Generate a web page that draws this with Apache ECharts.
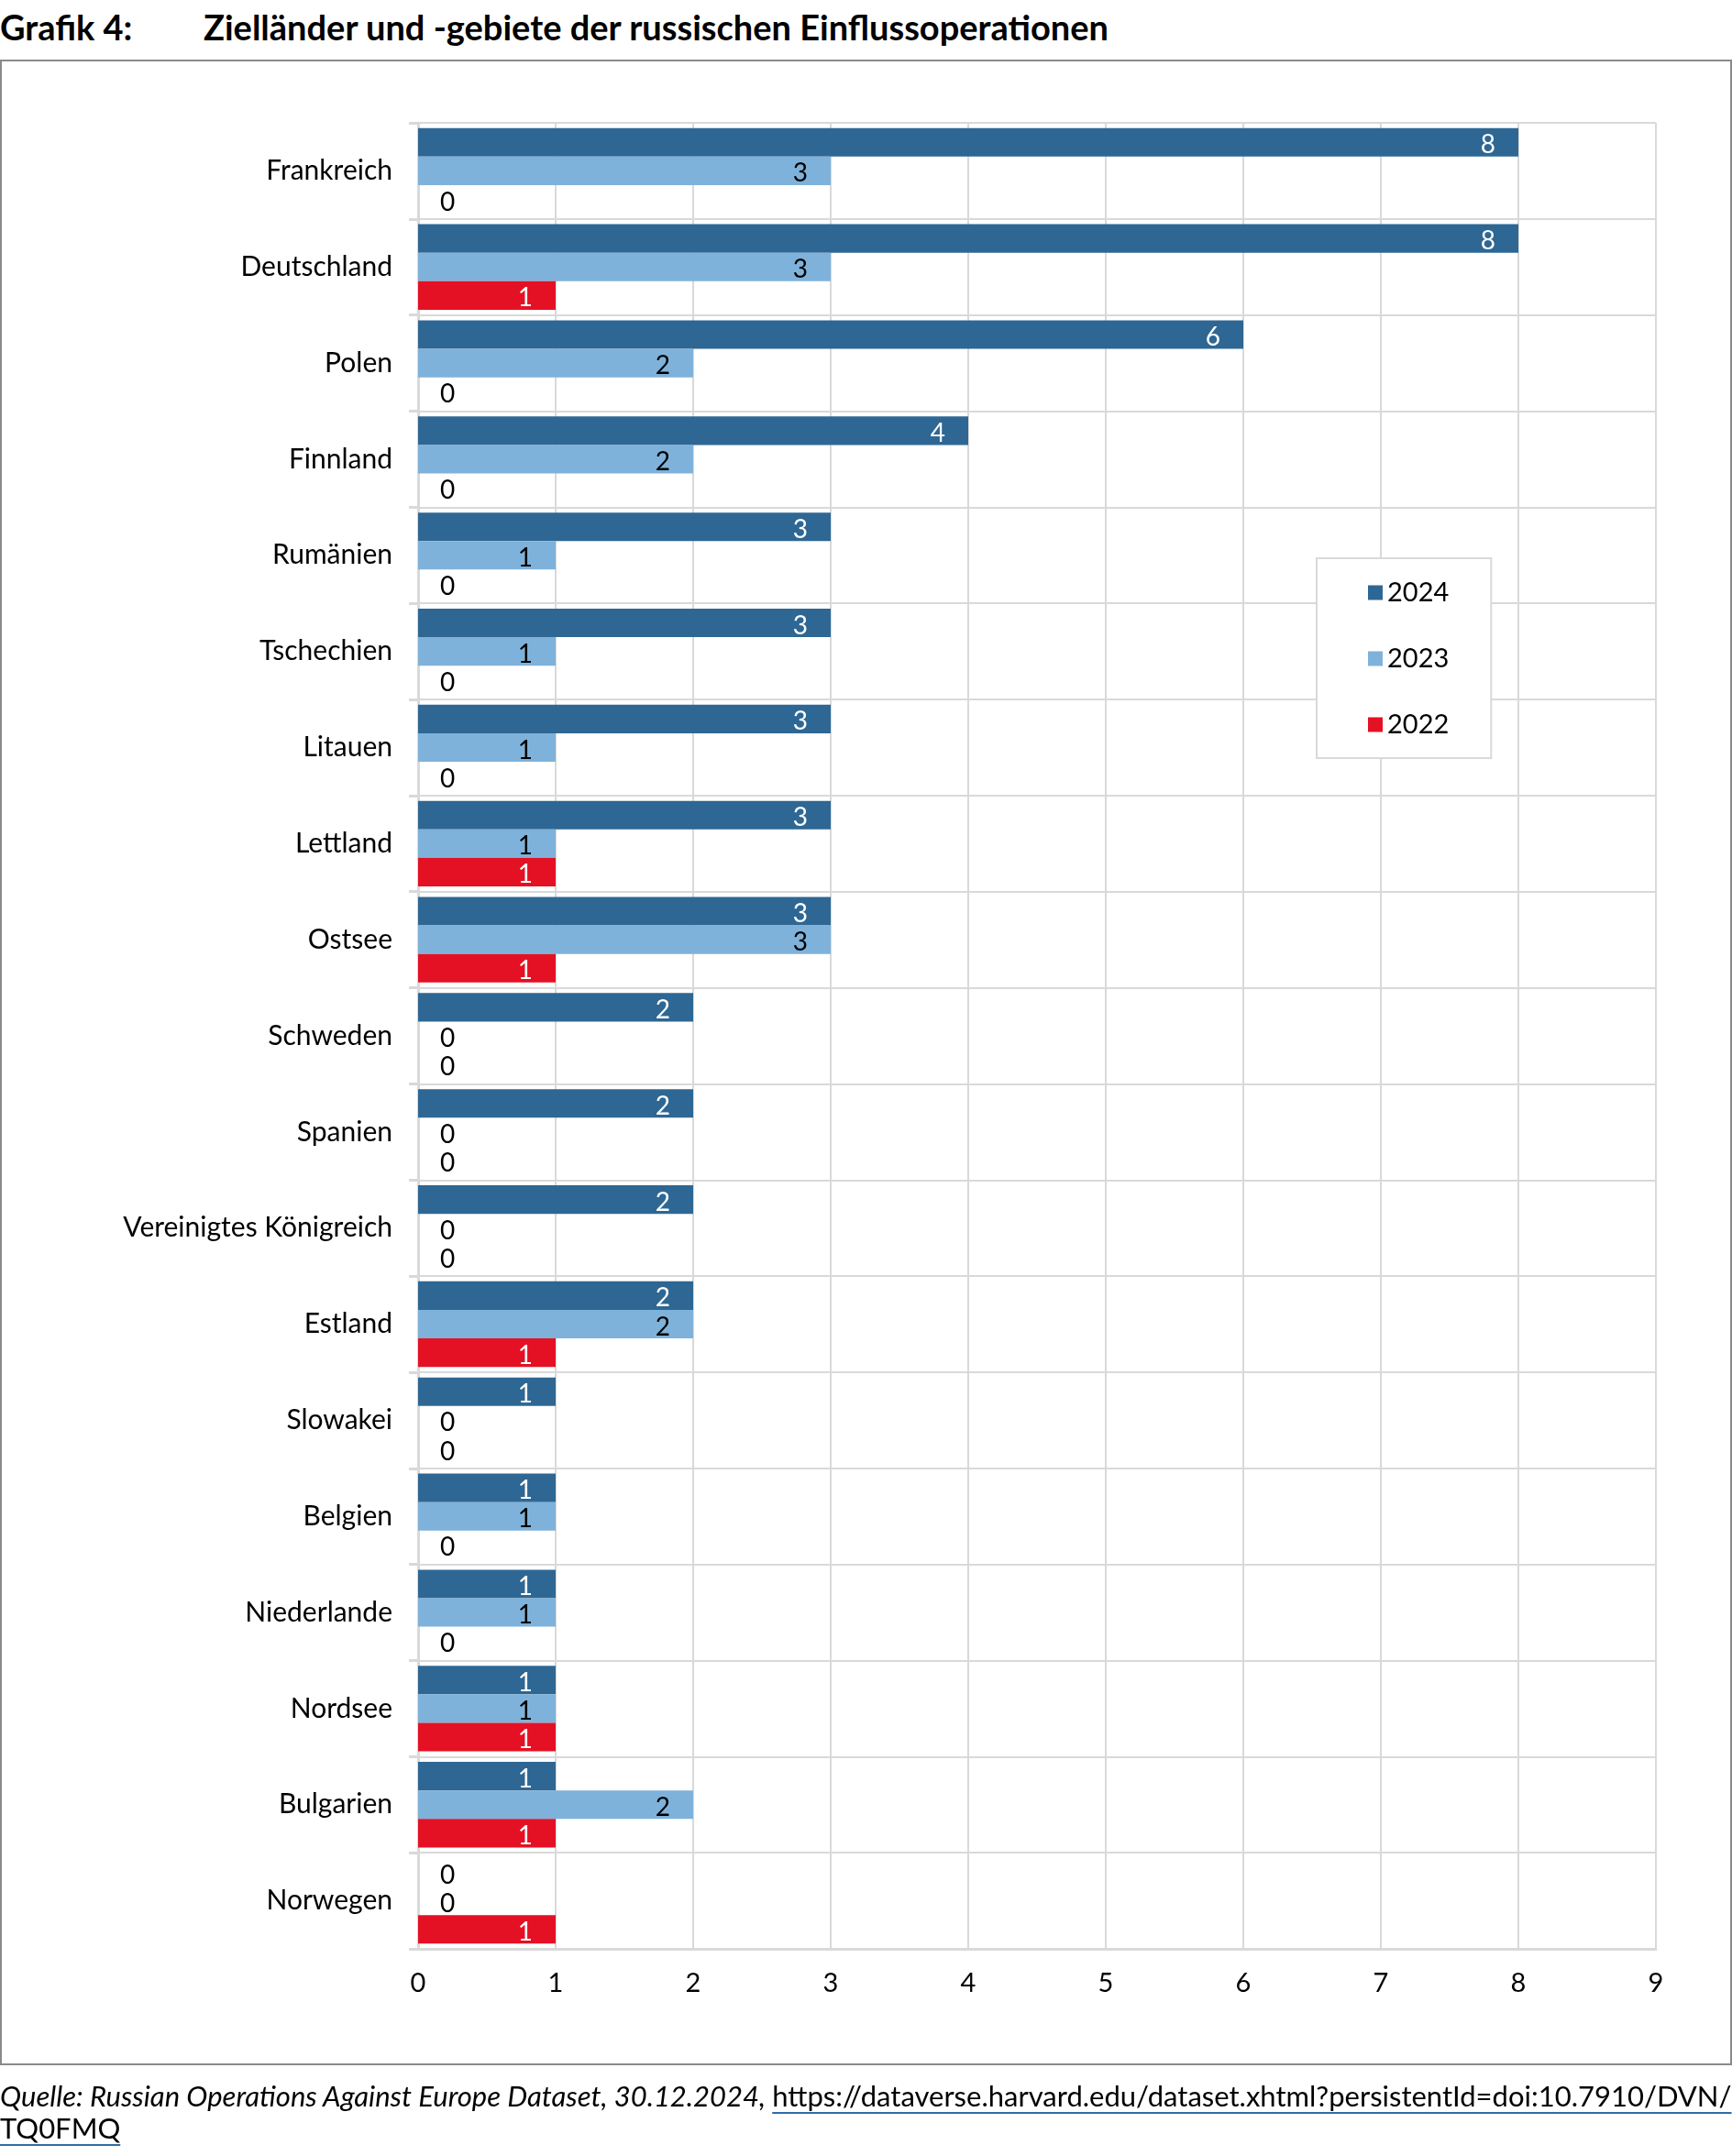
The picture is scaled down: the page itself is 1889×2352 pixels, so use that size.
<!DOCTYPE html>
<html>
<head>
<meta charset="utf-8">
<script src="https://cdn.jsdelivr.net/npm/echarts@6/dist/echarts.min.js"></script>
<style>
  html, body { margin: 0; padding: 0; background: #fff; }
  body { width: 1889px; height: 2352px; position: relative; overflow: hidden; font-family: Lato, "Noto Sans", sans-serif; }
  #title { position: absolute; left: 0; top: 6px; font-size: 38px; line-height: 46px; font-weight: bold; color: #000; white-space: nowrap; }
  #title .t2 { position: absolute; left: 222px; top: 0; }
  #frame { position: absolute; left: 0; top: 65px; width: 1885px; height: 2184px; border: 2px solid #8a8a8a; box-sizing: content-box; }
  #chart { position: absolute; left: 0; top: 0; width: 1889px; height: 2352px; }
  #source { position: absolute; left: 0; top: 2269px; font-size: 31px; line-height: 35px; color: #000; white-space: nowrap; }
  #source .q { font-style: italic; }
  #source .lnk { text-decoration: underline; text-decoration-color: #2e6da4; text-decoration-thickness: 2px; text-underline-offset: 6px; }
</style>
</head>
<body>
<div id="title"><span>Grafik 4:</span><span class="t2">Zielländer und -gebiete der russischen Einflussoperationen</span></div>
<div id="frame"></div>
<div id="chart"></div>
<div id="source"><span class="q">Quelle: Russian Operations Against Europe Dataset, 30.12.2024, </span><span class="lnk">https://dataverse.harvard.edu/dataset.xhtml?persistentId=doi:10.7910/DVN/</span><br><span class="lnk">TQ0FMQ</span></div>
<script>
const categories = ["Frankreich","Deutschland","Polen","Finnland","Rumänien","Tschechien","Litauen","Lettland","Ostsee","Schweden","Spanien","Vereinigtes Königreich","Estland","Slowakei","Belgien","Niederlande","Nordsee","Bulgarien","Norwegen"];
const seriesNames = ["2024","2023","2022"];
const v2024 = [8,8,6,4,3,3,3,3,3,2,2,2,2,1,1,1,1,1,0];
const v2023 = [3,3,2,2,1,1,1,1,3,0,0,0,2,0,1,1,1,2,0];
const v2022 = [0,1,0,0,0,0,0,1,1,0,0,0,1,0,0,0,1,1,1];
const colors = ["#2e6793","#7fb2da","#e41124"];
const labelColors = ["#ffffff","#000000","#ffffff"];

const FONT = 'Lato';
function mkData(arr) {
  return arr.map(v => v === 0
    ? { value: 0, label: { position: 'right', distance: 24, color: '#000' } }
    : v);
}
const allVals = [v2024, v2023, v2022];
const series = seriesNames.map((n, i) => ({
  name: n,
  type: 'bar',
  data: mkData(allVals[i]),
  barGap: '0%',
  barCategoryGap: '11%',
  itemStyle: { color: colors[i] },
  label: {
    show: true,
    position: 'insideRight',
    distance: 25,
    offset: [0, 3],
    color: labelColors[i],
    fontFamily: FONT,
    fontSize: 28
  },
  emphasis: { disabled: true },
  animation: false
}));

const chart = echarts.init(document.getElementById('chart'), null, { renderer: 'canvas' });
chart.setOption({
  animation: false,
  textStyle: { fontFamily: FONT },
  grid: { left: 456, top: 134, width: 1350, height: 1992, containLabel: false },
  legend: {
    orient: 'vertical',
    left: 1436, top: 609,
    data: seriesNames,
    icon: 'rect',
    itemWidth: 16, itemHeight: 16,
    itemGap: 43,
    padding: [23, 46, 22, 56],
    borderColor: '#d9d9d9', borderWidth: 2,
    backgroundColor: '#fff',
    textStyle: { fontFamily: FONT, fontSize: 29, color: '#000' },
    selectedMode: false
  },
  xAxis: {
    type: 'value', min: 0, max: 9, interval: 1,
    axisLine: { show: true, lineStyle: { color: '#d9d9d9', width: 3 } },
    axisTick: { show: false },
    splitLine: { show: true, lineStyle: { color: '#d9d9d9', width: 2 } },
    axisLabel: { fontFamily: FONT, fontSize: 29, color: '#000', margin: 23 }
  },
  yAxis: {
    type: 'category', inverse: true, data: categories,
    axisLine: { show: true, lineStyle: { color: '#d9d9d9', width: 3 } },
    axisTick: { show: true, length: 10, lineStyle: { color: '#d9d9d9', width: 3 } },
    splitLine: { show: true, lineStyle: { color: '#d9d9d9', width: 2 } },
    axisLabel: { fontFamily: FONT, fontSize: 30, color: '#000', margin: 28 }
  },
  series: series
});
</script>
</body>
</html>
